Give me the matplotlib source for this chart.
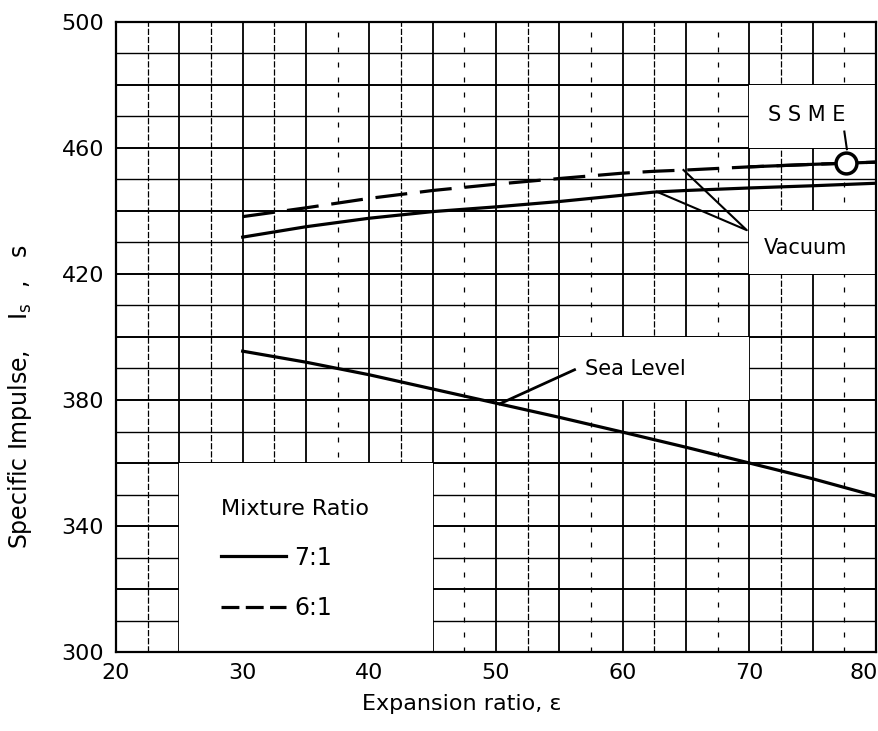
import numpy as np
import matplotlib.pyplot as plt
import matplotlib.transforms as mtransforms
from matplotlib.lines import Line2D
from matplotlib.patches import Rectangle

plt.rcParams['font.family'] = ['DejaVu Sans']

# expansion ratio samples
eps = [30, 35, 40, 45, 50, 55, 60, 62.5, 65, 70, 75, 80]

# 7:1 vacuum, 6:1 vacuum, 7:1 sea level (s)
isp_vac_71 = [431.7, 435.0, 437.7, 439.8, 441.3, 443.0, 445.0, 446.0, 446.5, 447.3, 448.0, 448.8]
isp_vac_61 = [438.2, 441.0, 444.0, 446.5, 448.5, 450.3, 452.0, 452.6, 453.0, 454.0, 454.8, 455.5]
isp_sl_71 = [395.5, 392.0, 388.0, 383.5, 379.0, 374.5, 369.8, 367.4, 365.0, 360.0, 355.0, 349.5]

ssme_eps = 77.6
ssme_isp = 455.3

x_ticks = [20, 30, 40, 50, 60, 70, 80]
y_ticks = [300, 340, 380, 420, 460, 500]

fig = plt.figure(figsize=(8.79, 7.31), dpi=100)
ax = fig.add_axes([0.132, 0.108, 0.8646, 0.862])
ax.set_xlim(20, 80)
ax.set_ylim(300, 500)

# graph paper grid
for gx in np.arange(20, 80.1, 2.5):
    if gx % 5 == 0:
        ax.axvline(gx, color='black', lw=1.3, zorder=1)
    elif gx < 35 or (gx - 2.5) % 10 == 0:
        ax.axvline(gx, color='black', lw=0.9, ls=(0, (5, 1.5)), zorder=1)
    else:
        ax.axvline(gx, color='black', lw=0.9, ls=(0, (4, 8)), zorder=1)
for gy in np.arange(300, 500.1, 10):
    lw = 1.4 if gy % 20 == 0 else 1.0
    ax.axhline(gy, color='black', lw=lw, zorder=1)

# blank label areas on the paper
for (x0, y0, w, h) in [(25, 300, 20, 60), (55, 380, 15, 20), (70, 420, 10, 20), (70, 460, 10, 20)]:
    ax.add_patch(Rectangle((x0, y0), w, h, facecolor='white', edgecolor='none', zorder=2))

ax.plot(eps, isp_vac_71, color='black', lw=2.3, zorder=3)
ax.plot(eps, isp_vac_61, color='black', lw=2.3, ls=(0, (10, 4)), zorder=3)
ax.plot(eps[-3:], isp_vac_61[-3:], color='black', lw=2.3, zorder=3)
ax.plot(eps, isp_sl_71, color='black', lw=2.3, zorder=3)
ax.plot([ssme_eps], [ssme_isp], 'o', ms=15, mfc='white', mec='black', mew=2.5, zorder=4)

# labels and pointers
ax.text(74.5, 470.5, 'S S M E', fontsize=15, ha='center', va='center', zorder=5)
ax.plot([77.5, 77.7], [465.2, 459.6], color='black', lw=1.5, zorder=4)
ax.text(74.4, 428.2, 'Vacuum', fontsize=15, ha='center', va='center', zorder=5)
ax.plot([62.7, 69.8, 64.8], [446.1, 433.9, 453.0], color='black', lw=1.5, zorder=4)
ax.text(61.0, 389.8, 'Sea Level', fontsize=15, ha='center', va='center', zorder=5)
ax.plot([56.2, 50.3], [389.6, 378.8], color='black', lw=2.0, zorder=4)

h71 = Line2D([], [], color='black', lw=2.3)
h61 = Line2D([], [], color='black', lw=2.3, ls=(0, (5.6, 2.0)))
leg = ax.legend(handles=[h71, h61], labels=['7:1', '6:1'], title='Mixture Ratio',
                loc='upper left', bbox_to_anchor=(28.3, 348.5), bbox_transform=ax.transData,
                frameon=False, fontsize=17, title_fontsize=16, handlelength=2.75,
                handletextpad=0.34, labelspacing=1.12, borderpad=0, borderaxespad=0,
                alignment='left')
leg.set_zorder(6)

ax.set_xticks(x_ticks)
ax.set_yticks(y_ticks)
ax.tick_params(length=0, labelsize=16, pad=8)
ax.tick_params(axis='y', pad=8.6)
last = ax.get_xticklabels()[-1]
last.set_transform(last.get_transform() + mtransforms.ScaledTranslation(-12 / 100, 0, fig.dpi_scale_trans))
for s in ax.spines.values():
    s.set_linewidth(1.6)
    s.set_zorder(5)

ax.set_xlabel('Expansion ratio, ε', fontsize=16)
ax.xaxis.set_label_coords(0.455, -0.067)
ax.set_ylabel(r'Specific Impulse,    $\mathregular{I_s}$  ,   s', fontsize=17)
ax.yaxis.set_label_coords(-0.108, 0.405)

fig.savefig('out.png', dpi=100)
